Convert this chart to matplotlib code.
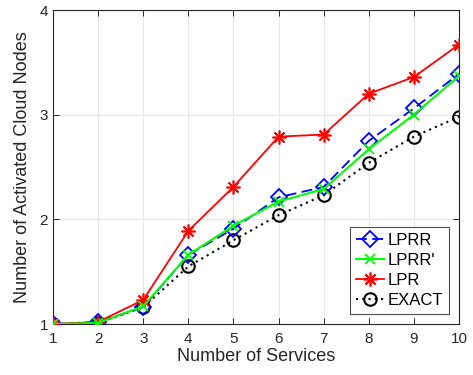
import matplotlib
matplotlib.use("Agg")
import matplotlib.pyplot as plt

plt.rcParams['font.family'] = ['Liberation Sans', 'DejaVu Sans']

services = [1, 2, 3, 4, 5, 6, 7, 8, 9, 10]
lprr = [1.00, 1.02, 1.16, 1.66, 1.91, 2.21, 2.31, 2.75, 3.06, 3.39]
lprr_prime = [1.00, 1.01, 1.17, 1.66, 1.94, 2.17, 2.29, 2.67, 3.00, 3.37]
lpr = [1.00, 1.02, 1.23, 1.89, 2.31, 2.79, 2.81, 3.20, 3.36, 3.67]
exact = [1.00, 1.01, 1.16, 1.55, 1.80, 2.04, 2.23, 2.54, 2.79, 2.98]

fig = plt.figure(figsize=(4.73, 3.75), dpi=100)
ax = fig.add_axes([53/473, 1-324/375, (459-53)/473, (324-10)/375])

ax.plot(services, lprr, color='#0000ff', ls=(0, (6, 3)), lw=1.3, marker='D',
        ms=8, mfc='none', mew=1.3, label='LPRR', zorder=3)
ax.plot(services, lprr_prime, color='#00ff00', ls='-', lw=1.5, marker='x',
        ms=7, mew=1.3, label="LPRR'", zorder=4)
ax.plot(services, lpr, color='#ff0000', ls='-', lw=1.3, marker=(8, 2, 0),
        ms=10, mew=1.2, label='LPR', zorder=3)
ax.plot(services, exact, color='black', ls=(0, (1, 2)), lw=1.5, marker='o',
        ms=9, mfc='none', mew=1.5, label='EXACT', zorder=2)

ax.set_xlim(1, 10)
ax.set_ylim(1, 4)
ax.set_xticks(services)
ax.set_yticks([1, 2, 3, 4])
ax.grid(True, color='#e6e6e6', lw=0.8)
ax.set_axisbelow(True)
ax.tick_params(direction='in', top=True, right=True, labelsize=11,
               colors='#262626', length=4, width=0.7)
ax.tick_params(axis='x', pad=6)
for s in ax.spines.values():
    s.set_color('#262626')
    s.set_linewidth(0.8)

ax.set_xlabel('Number of Services', fontsize=13, color='#262626', labelpad=1)
ax.set_ylabel('Number of Activated Cloud Nodes', fontsize=13, color='#262626', labelpad=6)

leg = ax.legend(loc='lower right', fontsize=12, frameon=True, fancybox=False,
                edgecolor='#262626', handlelength=1.7, handletextpad=0.2,
                borderpad=0.35, labelspacing=0.3, borderaxespad=0.6)
leg.get_frame().set_linewidth(0.8)

fig.savefig('out.png', dpi=100)
